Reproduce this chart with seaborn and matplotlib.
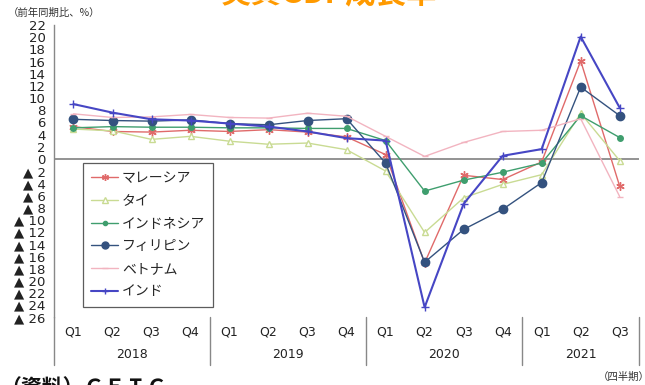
import matplotlib
matplotlib.use("Agg")
import matplotlib.pyplot as plt
import matplotlib.transforms as mtransforms
from matplotlib.lines import Line2D
import seaborn as sns
import pandas as pd

quarters = ["Q1", "Q2", "Q3", "Q4", "Q1", "Q2", "Q3", "Q4",
            "Q1", "Q2", "Q3", "Q4", "Q1", "Q2", "Q3"]
years = ["2018", "2019", "2020", "2021"]
year_counts = [4, 4, 4, 3]

malaysia = [5.3, 4.5, 4.4, 4.7, 4.5, 4.8, 4.4, 3.6, 0.7, -17.1, -2.7, -3.4, -0.5, 16.1, -4.5]
thailand = [4.9, 4.6, 3.2, 3.7, 2.9, 2.4, 2.6, 1.5, -2.0, -12.1, -6.4, -4.2, -2.6, 7.5, -0.3]
indonesia = [5.1, 5.3, 5.2, 5.2, 5.1, 5.1, 5.0, 5.0, 3.0, -5.3, -3.5, -2.2, -0.7, 7.1, 3.5]
philippines = [6.5, 6.3, 6.2, 6.4, 5.8, 5.6, 6.3, 6.6, -0.7, -17.0, -11.6, -8.3, -3.9, 11.8, 7.1]
vietnam = [7.4, 6.8, 6.9, 7.3, 6.8, 6.7, 7.5, 7.0, 3.7, 0.4, 2.7, 4.5, 4.7, 6.6, -6.2]
india = [9.0, 7.6, 6.5, 6.3, 5.8, 5.3, 4.5, 3.4, 3.0, -24.4, -7.4, 0.5, 1.6, 20.1, 8.4]

names = ["マレーシア", "タイ", "インドネシア", "フィリピン", "ベトナム", "インド"]
series = [malaysia, thailand, indonesia, philippines, vietnam, india]

sns.set_style("white")
plt.rcParams['font.family'] = ['Noto Sans CJK JP', 'DejaVu Sans']

styles = {
    "マレーシア": dict(color="#e06a6a", marker=(6, 2, 0), ms=6, mfc="#e06a6a", mec="#e06a6a", lw=1.0),
    "タイ": dict(color="#c9db93", marker="^", ms=5, mfc="white", mec="#c9db93", lw=1.0),
    "インドネシア": dict(color="#3f9e6e", marker="o", ms=4, mfc="#3f9e6e", mec="#3f9e6e", lw=1.0),
    "フィリピン": dict(color="#34527f", marker="o", ms=6, mfc="#34527f", mec="#34527f", lw=1.0),
    "ベトナム": dict(color="#f2b4c0", marker="_", ms=5, mfc="#f2b4c0", mec="#f2b4c0", lw=1.0),
    "インド": dict(color="#4646c4", marker="+", ms=6, mfc="#4646c4", mec="#4646c4", lw=1.5),
}

fig = plt.figure(figsize=(6.45, 3.85), dpi=100)
ax = fig.add_axes([0.0837, 0.1766, 0.9073, 0.7584])

x = list(range(len(quarters)))
handles = []
for name, vals in zip(names, series):
    st = styles[name]
    df = pd.DataFrame({"x": x, "y": vals})
    sns.lineplot(data=df, x="x", y="y", ax=ax, color=st["color"], lw=st["lw"],
                 marker=st["marker"], markersize=st["ms"], markerfacecolor=st["mfc"],
                 markeredgecolor=st["mec"], markeredgewidth=1.0, sort=False, legend=False)
    handles.append(Line2D([], [], color=st["color"], lw=st["lw"], marker=st["marker"],
                          markersize=st["ms"] - 1, markerfacecolor=st["mfc"],
                          markeredgecolor=st["mec"], label=name))

ax.axhline(0, color="#808080", lw=1.2, zorder=0.5)
ax.set_xlim(-0.5, len(quarters) - 0.5)
ax.set_ylim(-26, 22)

yt = list(range(-26, 23, 2))
ylabels = [("▲ " + str(-v)) if v < 0 else str(v) for v in yt]
ax.set_yticks(yt)
ax.set_yticklabels(ylabels, fontsize=9.5, color="#222222", family=['DejaVu Sans'])
ax.tick_params(axis="y", direction="in", length=3, width=0.8, color="#666666", pad=6)

ax.set_xticks(x)
ax.set_xticklabels(quarters, fontsize=9, color="#222222", family=['DejaVu Sans'])
ax.tick_params(axis="x", length=0, pad=6)
ax.set_xlabel("")
ax.set_ylabel("")

for s in ["top", "right", "bottom"]:
    ax.spines[s].set_visible(False)
ax.spines["left"].set_color("#888888")
ax.spines["left"].set_linewidth(1.0)

trans = mtransforms.blended_transform_factory(ax.transData, ax.transAxes)
ax.add_line(Line2D([0, 0], [0, -0.165], transform=ax.transAxes, color="#888888", lw=1.0, clip_on=False))
bounds = [3.5, 7.5, 11.5, 14.5]
for b in bounds:
    ax.add_line(Line2D([b, b], [0, -0.165], transform=trans, color="#888888", lw=1.0, clip_on=False))

start = 0
for yr, n in zip(years, year_counts):
    c = start + (n - 1) / 2
    ax.text(c, -0.13, yr, transform=trans, ha="center", va="center", fontsize=9, color="#222222",
            family=['DejaVu Sans'])
    start += n

leg = ax.legend(handles=handles, loc="upper left", bbox_to_anchor=(83 / 645, 1 - 163 / 385),
                bbox_transform=fig.transFigure, fontsize=10, frameon=True, fancybox=False,
                edgecolor="#333333", handlelength=1.9, handletextpad=0.3, labelspacing=0.62,
                borderpad=0.6, borderaxespad=0)
leg.get_frame().set_linewidth(0.9)

fig.text(0.51, 1.015, "実質GDP成長率", ha="center", va="center", fontsize=22,
         fontweight="bold", color="#ff9a00")
fig.text(8 / 645, 1 - 13 / 385, "（前年同期比、%）", ha="left", va="center", fontsize=7.5, color="#333333")
fig.text(598 / 645, 1 - 377 / 385, "（四半期）", ha="left", va="center", fontsize=7.5, color="#333333")
fig.text(0.0, 1 - 377 / 385, "（資料）ＣＥＩＣ", ha="left", va="top", fontsize=15,
         fontweight="bold", color="#111111")

fig.savefig("out.png", dpi=100)
